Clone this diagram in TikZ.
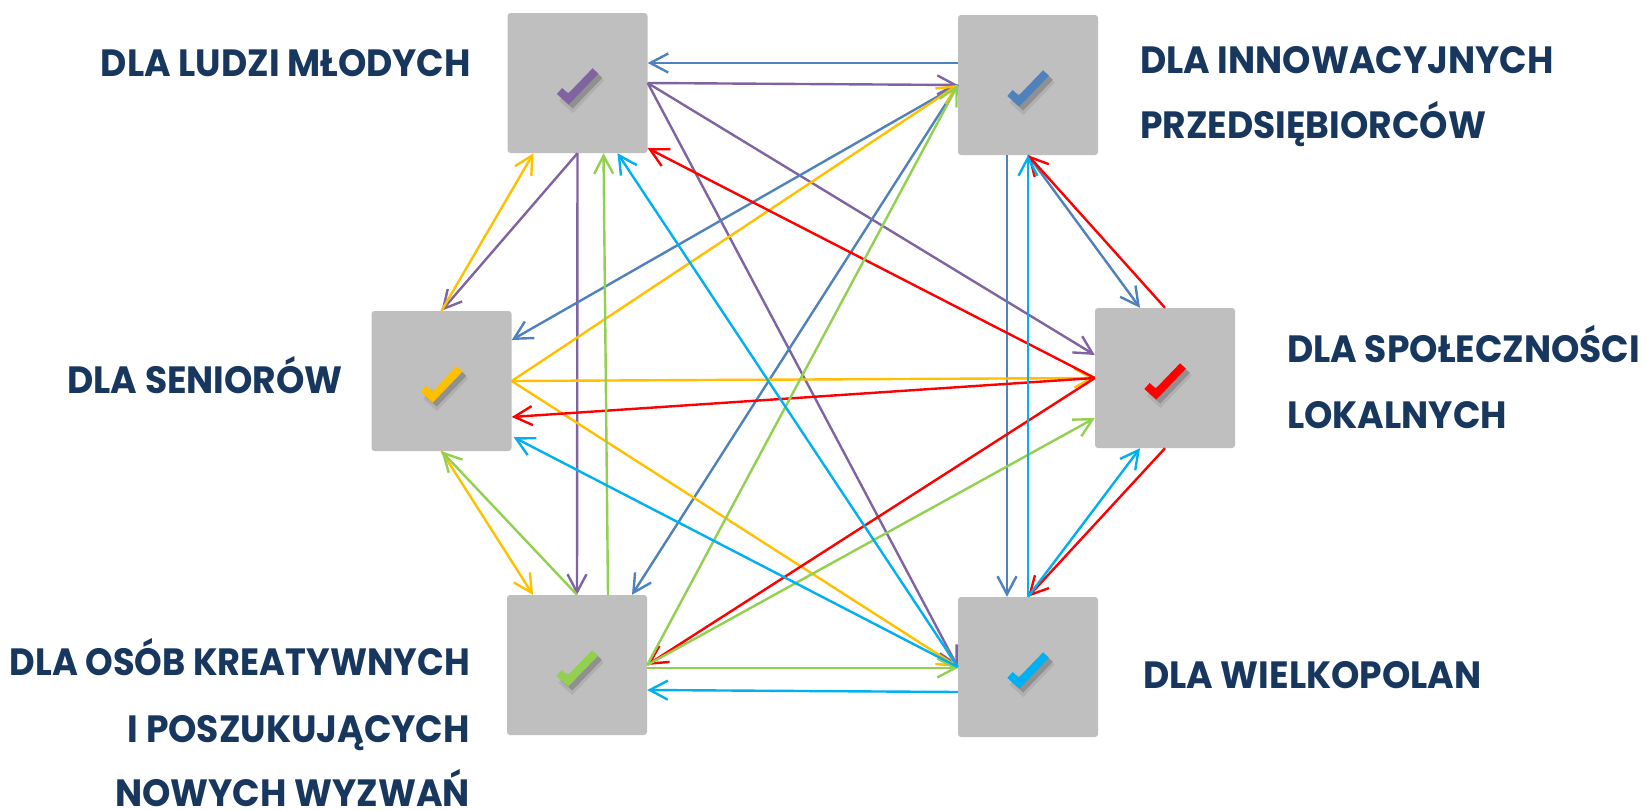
\documentclass[tikz,border=0pt]{standalone}
\usepackage{fontspec}
\setmainfont{Poppins}[FakeStretch=0.95]
\usetikzlibrary{arrows.meta,calc}
\definecolor{boxgray}{RGB}{191,191,191}
\definecolor{navy}{RGB}{23,55,94}
\definecolor{cpur}{RGB}{128,100,162}
\definecolor{cblu}{RGB}{79,129,189}
\definecolor{cyel}{RGB}{255,192,0}
\definecolor{cred}{RGB}{255,0,0}
\definecolor{cgrn}{RGB}{146,208,80}
\definecolor{ccya}{RGB}{0,176,240}
\newcommand\drawcheck[2]{%
  \begin{scope}[shift={(#1.center)}]
    \draw[tick, black, opacity=0.08, line width=13pt] (-14,13) -- (-5,21) -- (22,-7);
    \draw[tick, black, opacity=0.18] (-14,12) -- (-5,20) -- (22,-8);
    \draw[tick, #2] (-18,8) -- (-9,16) -- (18,-12);
  \end{scope}}
\begin{document}
\begin{tikzpicture}[x=1pt,y=-1pt,
  box/.style={fill=boxgray, rounded corners=3pt, minimum size=140pt, inner sep=0pt, draw=none},
  lbl/.style={font=\fontsize{38}{44}\selectfont\bfseries, text=navy, inner sep=0pt},
  conn/.style={line width=2.4pt, -{Straight Barb[length=18pt,width=19pt]}},
  tick/.style={line width=8pt, line join=miter, line cap=butt}]
\useasboundingbox (0,0) rectangle (1647,811);
\fill[white] (0,0) rectangle (1647,811);

% boxes
\node[box] (young) at (577.5,83) {};
\node[box] (innov) at (1028,85) {};
\node[box] (senior) at (441.5,381) {};
\node[box] (local) at (1165,378) {};
\node[box] (creat) at (577,665) {};
\node[box] (wielk) at (1028,667) {};

\drawcheck{young}{cpur}
\drawcheck{innov}{cblu}
\drawcheck{senior}{cyel}
\drawcheck{local}{cred}
\drawcheck{creat}{cgrn}
\drawcheck{wielk}{ccya}

% labels
\node[lbl, anchor=base east] (tYoung) at (471,76) {DLA LUDZI MŁODYCH};
\node[lbl, anchor=base west] (tInno1) at (1140,73) {DLA INNOWACYJNYCH};
\node[lbl, anchor=base west] (tInno2) at (1140,138) {PRZEDSIĘBIORCÓW};
\node[lbl, anchor=base east] (tSen) at (343,393) {DLA SENIORÓW};
\node[lbl, anchor=base west] (tLoc1) at (1287,362) {DLA SPOŁECZNOŚCI};
\node[lbl, anchor=base west] (tLoc2) at (1287,428) {LOKALNYCH};
\node[lbl, anchor=base east] (tCre1) at (470,675) {\scalebox{0.975}[1]{DLA OSÓB KREATYWNYCH}};
\node[lbl, anchor=base east] (tCre2) at (470,742) {I POSZUKUJĄCYCH};
\node[lbl, anchor=base east] (tCre3) at (470,806) {NOWYCH WYZWAŃ};
\node[lbl, anchor=base west] (tWie) at (1143,688) {DLA WIELKOPOLAN};

% purple: from young
\draw[conn, cpur] (young.south) -- (creat.north);
\draw[conn, cpur] (young.south) -- (senior.north);
\draw[conn, cpur] (young.east) -- (innov.west);
\draw[conn, cpur] (young.east) -- ([yshift=23pt]local.west);
\draw[conn, cpur] (young.east) -- (wielk.west);

% blue: from innov
\draw[conn, cblu] ([yshift=22pt]innov.west) -- ([yshift=20pt]young.east);
\draw[conn, cblu] (innov.west) -- ([yshift=41pt]senior.east);
\draw[conn, cblu] (innov.west) -- ([xshift=55pt]creat.north);
\draw[conn, cblu] (innov.south) -- ([xshift=-25pt]local.north);
\draw[conn, cblu] ([xshift=-21pt]innov.south) -- ([xshift=-21pt]wielk.north);

% yellow: from senior
\draw[conn, cyel] (senior.north) -- ([xshift=-44pt]young.south);
\draw[conn, cyel] (senior.east) -- (innov.west);
\draw[conn, cyel] (senior.east) -- (local.west);
\draw[conn, cyel] (senior.east) -- (wielk.west);
\draw[conn, cyel] (senior.south) -- ([xshift=-44pt]creat.north);

% red: from local
\draw[conn, cred] (local.north) -- (innov.south);
\draw[conn, cred] (local.west) -- ([yshift=5pt]young.south east);
\draw[conn, cred] (local.west) -- ([yshift=-36pt]senior.east);
\draw[conn, cred] (local.west) -- (creat.east);
\draw[conn, cred] (local.south) -- (wielk.north);

% green: from creat
\draw[conn, cgrn] ([xshift=31pt]creat.north) -- ([xshift=26pt]young.south);
\draw[conn, cgrn] (creat.north) -- (senior.south);
\draw[conn, cgrn] (creat.east) -- (innov.west);
\draw[conn, cgrn] (creat.east) -- ([yshift=-40pt]local.west);
\draw[conn, cgrn] ([yshift=-3pt]creat.east) -- ([yshift=-1pt]wielk.west);

% cyan: from wielk
\draw[conn, ccya] (wielk.west) -- ([xshift=40pt]young.south);
\draw[conn, ccya] (wielk.west) -- ([xshift=2pt,yshift=14pt]senior.south east);
\draw[conn, ccya] ([yshift=-25pt]wielk.west) -- ([yshift=-25pt]creat.east);
\draw[conn, ccya] (wielk.north) -- (innov.south);
\draw[conn, ccya] (wielk.north) -- ([xshift=-25pt]local.south);
\end{tikzpicture}
\end{document}
